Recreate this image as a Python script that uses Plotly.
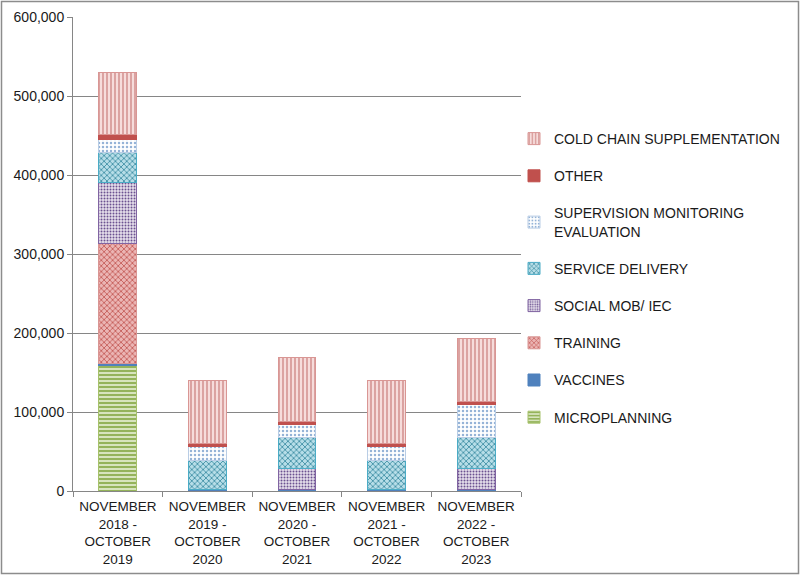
import plotly.graph_objects as go

categories = ["NOVEMBER<br>2018 -<br>OCTOBER<br>2019",
              "NOVEMBER<br>2019 -<br>OCTOBER<br>2020",
              "NOVEMBER<br>2020 -<br>OCTOBER<br>2021",
              "NOVEMBER<br>2021 -<br>OCTOBER<br>2022",
              "NOVEMBER<br>2022 -<br>OCTOBER<br>2023"]

microplanning = [159000, 0, 0, 0, 0]
vaccines = [2000, 2000, 1500, 2000, 2000]
training = [152000, 0, 0, 0, 0]
social_mob = [77000, 0, 27500, 0, 27000]
service_delivery = [38000, 37000, 39000, 37000, 39000]
supervision = [17000, 17000, 16000, 17000, 41000]
other = [6000, 4000, 4000, 4000, 4000]
cold_chain = [79000, 80500, 81500, 80500, 80000]

series = [
    ("MICROPLANNING", microplanning, dict(shape="-", fg="#8DAE4F", bg="#D7E4BD", size=4, sol=0.45), "#A6C16B"),
    ("VACCINES", vaccines, None, "#4F81BD"),
    ("TRAINING", training, dict(shape="x", fg="#C0504D", bg="#EBB5B4", size=4, sol=0.35), "#D99694"),
    ("SOCIAL MOB/ IEC", social_mob, dict(shape=".", fg="#6B5190", bg="#E6E0EC", size=3, sol=0.35), "#8064A2"),
    ("SERVICE DELIVERY", service_delivery, dict(shape="x", fg="#31859C", bg="#B7DEE8", size=4, sol=0.35), "#4BACC6"),
    ("SUPERVISION MONITORING<br>EVALUATION", supervision, dict(shape=".", fg="#95B3D7", bg="#FFFFFF", size=4, sol=0.3), "#B9CDE5"),
    ("OTHER", other, None, "#C0504D"),
    ("COLD CHAIN SUPPLEMENTATION", cold_chain, dict(shape="|", fg="#D08A88", bg="#F6DCDB", size=4, sol=0.35), "#D99694"),
]

fig = go.Figure()
for i, (name, vals, pat, col) in enumerate(series):
    if pat is None:
        marker = dict(color=col, line=dict(color=col, width=1))
    else:
        marker = dict(color=pat["bg"],
                      pattern=dict(shape=pat["shape"], fgcolor=pat["fg"], bgcolor=pat["bg"],
                                   size=pat["size"], solidity=pat["sol"], fillmode="replace"),
                      line=dict(color=col, width=1))
    fig.add_trace(go.Bar(x=categories, y=vals, name=name, marker=marker,
                         legendgroup=str(i), legendrank=1000 - 10 * i))

L, R, T, B = 73, 279, 17, 84
W, H = 800, 575
pw, ph = W - L - R, H - T - B

def px(x):
    return (x - L) / pw

def py(y):
    return (H - B - y) / ph

fig.add_shape(type="rect", xref="paper", yref="paper",
              x0=px(1.5), x1=px(798.5), y0=py(1.5), y1=py(573.5),
              line=dict(color="#8C8C8C", width=1.5), fillcolor="rgba(0,0,0,0)", layer="below")

fig.update_layout(
    width=W, height=H,
    margin=dict(l=L, r=R, t=T, b=B, autoexpand=False),
    barmode="stack", bargap=0.58,
    plot_bgcolor="white", paper_bgcolor="white",
    font=dict(family="Liberation Sans, Arial, sans-serif", size=14, color="#1A1A1A"),
    showlegend=True,
    legend=dict(traceorder="grouped", tracegroupgap=16,
                x=px(514), xanchor="left", y=py(278), yanchor="middle",
                font=dict(size=14, color="#1A1A1A"),
                itemwidth=30, bgcolor="rgba(0,0,0,0)"),
    xaxis=dict(showline=True, linecolor="#868686", linewidth=1,
               ticks="outside", tickson="boundaries", ticklen=5, tickcolor="#868686",
               ticklabelstandoff=3,
               tickfont=dict(size=13.5), showgrid=False, automargin=False),
    yaxis=dict(range=[0, 600000], dtick=100000, tickformat=",",
               showline=True, linecolor="#868686", linewidth=1,
               ticks="outside", ticklen=5, tickcolor="#868686",
               showgrid=True, gridcolor="#868686", gridwidth=1,
               tickfont=dict(size=14), zeroline=False, automargin=False),
)

fig.write_html("out.html",
               config={"displayModeBar": False},
               post_script="document.body.style.margin='0';document.body.style.overflow='hidden';")
